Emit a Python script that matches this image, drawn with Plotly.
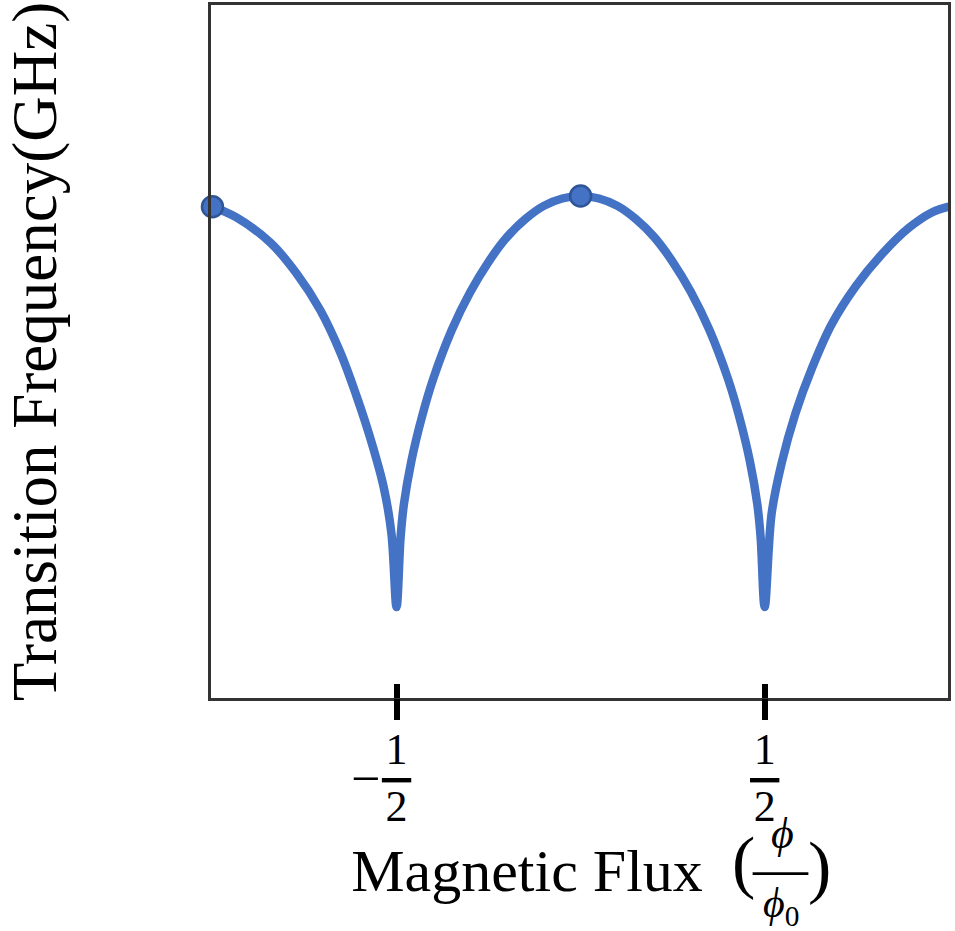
import plotly.graph_objects as go

# ---- data (flux in units of phi0, frequency in arbitrary GHz) ----
# left outer arch, centre arch, right outer arch
flux = [-1.0, -0.935, -0.842, -0.772, -0.707, -0.652, -0.609, -0.571, -0.535, -0.514, -0.5,
        -0.489, -0.48, -0.46, -0.43, -0.40, -0.35, -0.30, -0.25, -0.20, -0.15, -0.10, -0.05,
        0.0,
        0.05, 0.10, 0.15, 0.20, 0.25, 0.30, 0.35, 0.40, 0.43, 0.46, 0.48, 0.489, 0.5,
        0.519, 0.546, 0.584, 0.628, 0.682, 0.747, 0.818, 0.891, 0.954, 1.0]
freq = [5.87, 5.74, 5.43, 5.06, 4.61, 4.09, 3.57, 3.05, 2.46, 1.90, 1.0,
        1.85, 2.25, 2.77, 3.33, 3.78, 4.37, 4.83, 5.20, 5.50, 5.72, 5.88, 5.97,
        6.0,
        5.97, 5.88, 5.72, 5.50, 5.20, 4.83, 4.37, 3.78, 3.33, 2.77, 2.25, 1.85, 1.0,
        2.14, 2.75, 3.36, 3.90, 4.44, 4.90, 5.29, 5.61, 5.80, 5.87]

dot_flux = [-1.0, 0.0, 1.0]
dot_freq = [5.87, 6.0, 5.87]

tick_vals = [-0.5, 0.5]
half = '1<br><span style="text-decoration:overline">\u200a2\u200a</span>'
tick_text = [half, half]

x_title = "Magnetic Flux"
y_title = "Transition Frequency(GHz)"

BLUE = "#4472c4"
SERIF = "Liberation Serif, DejaVu Serif, serif"

fig = go.Figure()
fig.add_trace(go.Scatter(
    x=flux, y=freq, mode="lines",
    line=dict(color=BLUE, width=8.5, shape="spline", smoothing=1.0),
    showlegend=False, hoverinfo="skip", cliponaxis=False))
fig.add_trace(go.Scatter(
    x=dot_flux, y=dot_freq, mode="markers",
    marker=dict(color=BLUE, size=21, line=dict(color="#2f5597", width=2.5)),
    showlegend=False, cliponaxis=False))
# helper trace for the outer half of the tick marks
fig.add_trace(go.Scatter(x=[None], y=[None], xaxis="x2", showlegend=False, hoverinfo="skip"))

xr = [-1.004, 0.998]
fig.update_layout(
    width=955, height=931,
    margin=dict(l=211, r=7, t=5, b=233),
    paper_bgcolor="white", plot_bgcolor="white",
    font=dict(family=SERIF, color="black"),
    xaxis=dict(
        range=xr, showgrid=False, zeroline=False,
        showline=True, mirror=True, linecolor="#333333", linewidth=3,
        tickmode="array", tickvals=tick_vals, ticktext=tick_text,
        ticks="inside", ticklen=14, tickwidth=6, tickcolor="black",
        ticklabelstandoff=10,
        tickfont=dict(family=SERIF, size=44, color="black"),
        title=dict(text=x_title + "\u00a0" * 7 + "\u200b",
                   font=dict(family=SERIF, size=60, color="black"), standoff=19),
        automargin=False,
    ),
    xaxis2=dict(
        range=xr, overlaying="x", anchor="y", side="bottom",
        showgrid=False, zeroline=False, showline=False,
        tickmode="array", tickvals=tick_vals, showticklabels=False,
        ticks="outside", ticklen=21, tickwidth=6, tickcolor="black",
    ),
    yaxis=dict(
        range=[-0.107, 8.324], showgrid=False, zeroline=False,
        showline=True, mirror=True, linecolor="#333333", linewidth=3,
        ticks="", showticklabels=False,
        title=dict(text=y_title, font=dict(family=SERIF, size=63, color="black"), standoff=135),
        automargin=False,
    ),
)

# minus sign of the left tick label and the (phi/phi0) part of the axis title
fig.add_annotation(text="\u2212", xref="x", yref="paper", x=-0.5, y=-0.1168,
                   xshift=-31, xanchor="center", yanchor="middle", showarrow=False,
                   font=dict(family=SERIF, size=52, color="black"))
fig.add_annotation(text="(", xref="paper", yref="paper", x=0.722, y=-0.236,
                   xanchor="center", yanchor="middle", showarrow=False,
                   font=dict(family=SERIF, size=70, color="black"))
fig.add_annotation(text=")", xref="paper", yref="paper", x=0.825, y=-0.243,
                   xanchor="center", yanchor="middle", showarrow=False,
                   font=dict(family=SERIF, size=70, color="black"))
fig.add_annotation(text="<i>\u03d5</i>", xref="paper", yref="paper", x=0.775, y=-0.1958,
                   xanchor="center", yanchor="middle", showarrow=False,
                   font=dict(family=SERIF, size=44, color="black"))
fig.add_annotation(text="\u2014", xref="paper", yref="paper", x=0.773, y=-0.2453,
                   xanchor="center", yanchor="middle", showarrow=False,
                   font=dict(family=SERIF, size=55, color="black"))
fig.add_annotation(text="<i>\u03d5</i><sub>0</sub>", xref="paper", yref="paper", x=0.774, y=-0.300,
                   xanchor="center", yanchor="middle", showarrow=False,
                   font=dict(family=SERIF, size=42, color="black"))

fig.write_html("out.html")
